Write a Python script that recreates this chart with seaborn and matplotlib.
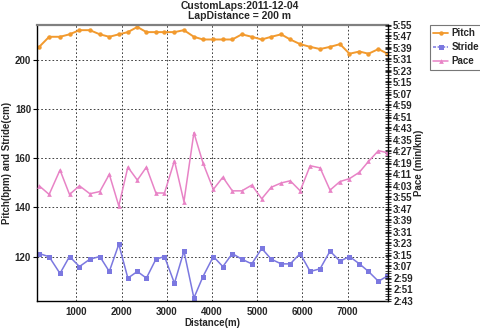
import numpy as np
import pandas as pd
import matplotlib
matplotlib.use("Agg")
import matplotlib.pyplot as plt
from matplotlib.ticker import FixedLocator, MultipleLocator, FuncFormatter
from matplotlib.lines import Line2D
import seaborn as sns

distance = [180, 400, 640, 850, 1070, 1300, 1520, 1730, 1940, 2140, 2350, 2550,
            2760, 2950, 3170, 3380, 3600, 3800, 4030, 4240, 4450, 4660, 4880, 5100,
            5310, 5530, 5730, 5950, 6170, 6390, 6610, 6830, 7040, 7260, 7460, 7680, 7880]
pitch = [205.4, 209.5, 209.5, 210.5, 212.2, 212.2, 210.5, 209.5, 210.5, 211.4, 213.5, 211.4,
         211.4, 211.4, 211.4, 212.2, 209.5, 208.4, 208.4, 208.4, 208.4, 210.5, 209.5, 208.4,
         209.5, 210.5, 208.4, 206.5, 205.4, 204.5, 205.4, 206.5, 202.6, 203.5, 202.6, 204.5, 202.6]
stride = [121.2, 119.9, 113.1, 120.0, 115.9, 118.9, 120.0, 113.9, 125.0, 111.2, 113.9, 111.2,
          118.9, 120.0, 109.1, 122.2, 103.1, 111.8, 120.0, 115.9, 121.2, 118.9, 117.0, 123.3,
          118.9, 117.0, 117.0, 121.2, 113.9, 115.0, 122.2, 118.1, 120.0, 117.0, 113.9, 109.9, 112.1]
pace_sec = [243, 237, 254, 237, 243, 237.5, 239, 251, 229, 256, 247, 256,
            238, 238, 260.5, 232, 280, 259, 240.5, 249, 239.5, 239.5, 243.5, 234,
            242, 245, 246.5, 239.5, 257, 255.5, 240, 246, 248, 252.5, 260, 267.5, 266]

left_ticks = [120, 140, 160, 180, 200]
x_ticks = [1000, 2000, 3000, 4000, 5000, 6000, 7000]
pace_ticks = list(range(163, 356, 8))

df = pd.DataFrame({"Distance": distance, "Pitch": pitch, "Stride": stride, "Pace": pace_sec})

sns.set_style("white")
plt.rcParams["font.family"] = ["Liberation Sans", "DejaVu Sans"]
plt.rcParams["font.weight"] = "bold"

c_pitch = "#F29A2E"
c_stride = "#7B78E0"
c_pace = "#E883C6"
FS = 7

fig = plt.figure(figsize=(4.8, 3.29), dpi=100)
ax = fig.add_axes([37.3 / 480, 1 - 300.7 / 329, 351.0 / 480, 275.7 / 329])
ax2 = ax.twinx()

sns.lineplot(data=df, x="Distance", y="Pitch", ax=ax, color=c_pitch, marker="o",
             markersize=3.2, markeredgewidth=0, linewidth=1.4)
sns.lineplot(data=df, x="Distance", y="Stride", ax=ax, color=c_stride, marker="s",
             markersize=3.6, markeredgewidth=0, linewidth=1.1)
sns.lineplot(data=df, x="Distance", y="Pace", ax=ax2, color=c_pace, marker="^",
             markersize=3.4, markeredgewidth=0, linewidth=1.1)

ax.set_xlim(138, 7898)
ax.set_ylim(102, 214.3)
ax2.set_ylim(163, 355)

ax.set_xticks(x_ticks)
ax.set_yticks(left_ticks)
ax.set_xticklabels([str(t) for t in x_ticks], fontsize=FS, fontweight="bold")
ax.set_yticklabels([str(t) for t in left_ticks], fontsize=FS, fontweight="bold")
ax.tick_params(axis="both", length=3, width=0.8, pad=1.5, color="black", direction="out")
ax.grid(True, color="#222222", linestyle=(0, (2, 2.5)), linewidth=0.6)

ax2.yaxis.set_major_locator(FixedLocator(pace_ticks))
ax2.yaxis.set_minor_locator(MultipleLocator(2))
ax2.yaxis.set_major_formatter(FuncFormatter(lambda v, p: f"{int(v)//60}:{int(v)%60:02d}"))
for lab in ax2.get_yticklabels():
    lab.set_fontweight("bold")
ax2.tick_params(axis="y", which="major", length=5, width=0.8, direction="inout", labelsize=FS, pad=1)
ax2.tick_params(axis="y", which="minor", length=4, width=0.6, direction="inout")
ax2.grid(False)

ax.set_xlabel("Distance(m)", fontsize=FS, fontweight="bold", labelpad=0.5)
ax.set_ylabel("Pitch(bpm) and Stride(cm)", fontsize=FS, fontweight="bold", labelpad=2)
ax2.set_ylabel("Pace (min/km)", fontsize=FS, fontweight="bold", labelpad=1)

for s in ["left", "bottom"]:
    ax.spines[s].set_color("black")
    ax.spines[s].set_linewidth(1.0)
ax.spines["right"].set_visible(False)
ax.spines["top"].set_color("#808080")
ax.spines["top"].set_linewidth(1.6)
ax2.spines["top"].set_visible(False)
ax2.spines["left"].set_visible(False)
ax2.spines["bottom"].set_visible(False)
ax2.spines["right"].set_color("black")
ax2.spines["right"].set_linewidth(1.0)

handles = [Line2D([], [], color=c_pitch, marker="o", markersize=3.2, markeredgewidth=0, lw=1.3),
           Line2D([], [], color=c_stride, marker="s", markersize=3.6, markeredgewidth=0, lw=1.1, ls=(0, (2, 1))),
           Line2D([], [], color=c_pace, marker="^", markersize=3.4, markeredgewidth=0, lw=1.1)]
leg = fig.legend(handles, ["Pitch", "Stride", "Pace"], loc="upper left",
                 bbox_to_anchor=(430.0 / 480, 1 - 25 / 329), frameon=True,
                 fancybox=False, handlelength=1.5, handletextpad=0.35,
                 borderpad=0.35, borderaxespad=0, labelspacing=0.4,
                 prop={"weight": "bold", "size": FS})
leg.get_frame().set_edgecolor("#555555")
leg.get_frame().set_linewidth(0.8)

fig.text(0.5, 1 - 6 / 329, "CustomLaps:2011-12-04", ha="center", va="center",
         fontsize=7.5, fontweight="bold")
fig.text(0.5, 1 - 16 / 329, "LapDistance = 200 m", ha="center", va="center",
         fontsize=7.5, fontweight="bold")

fig.savefig("out.png", dpi=100)
